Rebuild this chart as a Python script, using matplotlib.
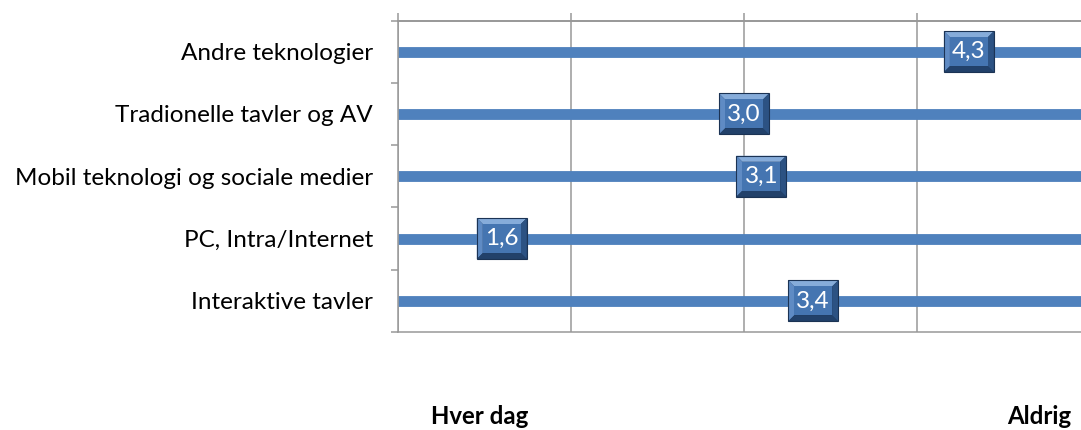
import matplotlib
matplotlib.use("Agg")
import matplotlib.pyplot as plt
from matplotlib.offsetbox import DrawingArea, AnnotationBbox
from matplotlib.patches import Polygon

plt.rcParams["font.family"] = ["Lato", "DejaVu Sans"]

# Categories listed bottom to top
categories = [
    "Interaktive tavler",
    "PC, Intra/Internet",
    "Mobil teknologi og sociale medier",
    "Tradionelle tavler og AV",
    "Andre teknologier",
]
scores = [3.4, 1.6, 3.1, 3.0, 4.3]
scale_min, scale_max = 1, 5
scale_low_label = "Hver dag"
scale_high_label = "Aldrig"

DPI = 100
W, H = 1081, 430
fig = plt.figure(figsize=(W / DPI, H / DPI), dpi=DPI)

left_px, right_px, top_px, bottom_px = 398, 1090, 20.5, 332
ax = fig.add_axes([left_px / W, 1 - bottom_px / H,
                   (right_px - left_px) / W, (bottom_px - top_px) / H])

grid_col = "#989898"
blue = "#4F81BD"
positions = list(range(len(categories)))

ax.set_xlim(scale_min, scale_max)
ax.set_ylim(-0.5, len(categories) - 0.5)

# full-width bands for each category
ax.hlines(positions, scale_min, scale_max, colors=blue, linewidth=7.8, zorder=2)

# frame line along the top of the plot area
ax.axhline(len(categories) - 0.5, color=grid_col, linewidth=1.3, clip_on=False, zorder=3)

# vertical gridlines and ticks on top
ax.set_xticks(range(scale_min, scale_max + 1))
ax.xaxis.tick_top()
ax.tick_params(axis="x", which="major", direction="out", length=6, width=1.1,
               color=grid_col, labeltop=False, labelbottom=False)
ax.grid(axis="x", color=grid_col, linewidth=1.1, zorder=1)

# category boundaries as major ticks, names as minor ticks
ax.set_yticks([p - 0.5 for p in positions] + [positions[-1] + 0.5])
ax.set_yticklabels([])
ax.set_yticks(positions, minor=True)
ax.set_yticklabels(categories, minor=True, fontsize=17.5, color="#000000")
ax.tick_params(axis="y", which="major", direction="out", length=5, width=1.1,
               color=grid_col)
ax.tick_params(axis="y", which="minor", length=0, pad=18)

for side in ["left", "top", "bottom"]:
    ax.spines[side].set_visible(True)
    ax.spines[side].set_color(grid_col)
    ax.spines[side].set_linewidth(1.1)
    ax.spines[side].set_zorder(3)
ax.spines["right"].set_visible(False)
ax.set_axisbelow(True)

# bevelled value boxes
k = 72 / DPI
bw, bh, bev = 50, 41, 6


def bevel_box():
    da = DrawingArea(bw * k, bh * k, 0, 0)
    x0, x1, y0, y1 = 0, bw * k, 0, bh * k
    b = bev * k
    pieces = [
        ([(x0, y0), (x1, y0), (x1, y1), (x0, y1)], "#1E3B61"),
        ([(x0, y1), (x1, y1), (x1 - b, y1 - b), (x0 + b, y1 - b)], "#86ACDA"),
        ([(x0, y0), (x0, y1), (x0 + b, y1 - b), (x0 + b, y0 + b)], "#5F8BC4"),
        ([(x1, y0), (x1, y1), (x1 - b, y1 - b), (x1 - b, y0 + b)], "#2C5283"),
        ([(x0, y0), (x1, y0), (x1 - b, y0 + b), (x0 + b, y0 + b)], "#22416A"),
        ([(x0 + b, y0 + b), (x1 - b, y0 + b), (x1 - b, y1 - b), (x0 + b, y1 - b)], "#4575B1"),
    ]
    for verts, col in pieces:
        da.add_artist(Polygon(verts, closed=True, facecolor=col, edgecolor="none"))
    da.add_artist(Polygon([(x0, y0), (x1, y0), (x1, y1), (x0, y1)], closed=True,
                          facecolor="none", edgecolor="#1B3354", linewidth=0.8))
    return da


for pos, val in zip(positions, scores):
    ab = AnnotationBbox(bevel_box(), (val, pos), frameon=False, pad=0,
                        box_alignment=(0.5, 0.5), zorder=4)
    ax.add_artist(ab)
    ax.text(val, pos, f"{val:.1f}".replace(".", ","), ha="center", va="center",
            color="white", fontsize=17.5, zorder=5)

fig.text(480 / W, 1 - 424 / H, scale_low_label, ha="center", va="baseline",
         fontsize=17.3, fontweight="bold")
fig.text(1039 / W, 1 - 424 / H, scale_high_label, ha="center", va="baseline",
         fontsize=17.3, fontweight="bold")

fig.savefig("out.png", dpi=DPI)
